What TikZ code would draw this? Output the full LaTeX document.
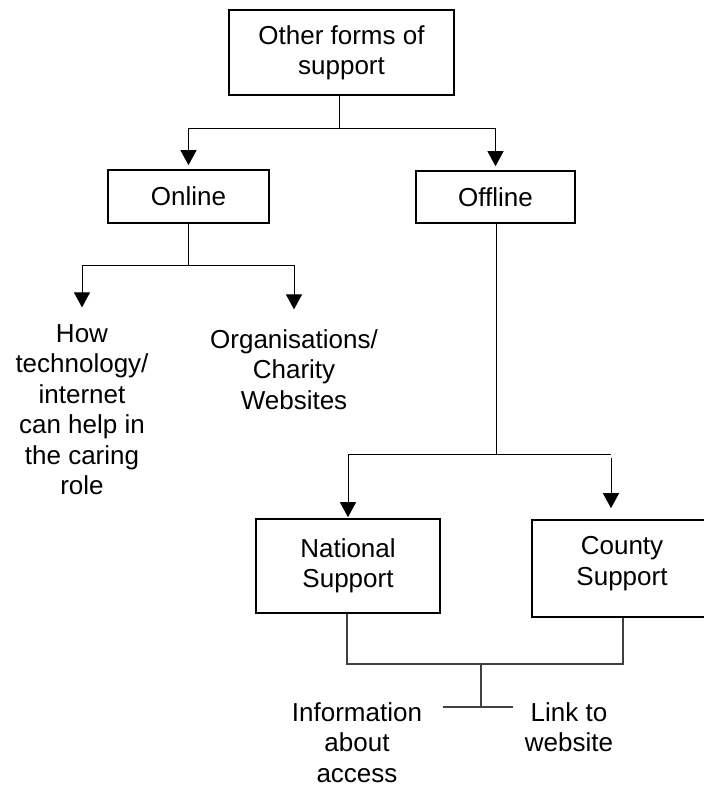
\documentclass[tikz,border=0pt]{standalone}
\usepackage{fontspec}
\setmainfont{Liberation Sans}
\usetikzlibrary{arrows.meta}
\begin{document}
\begin{tikzpicture}[x=1pt,y=-1pt,
  box/.style={draw,line width=1.6pt,align=center,inner sep=0pt,
    font=\fontsize{26}{30.4}\selectfont},
  txt/.style={align=center,inner sep=0pt,anchor=north,
    font=\fontsize{26}{30.4}\selectfont},
  link/.style={line width=1pt},
  arr/.style={link,-{Triangle[width=16pt,length=15pt]}},
  tie/.style={line width=1.3pt,draw=black!75}]
\useasboundingbox (0,0) rectangle (704,787);

% boxes
\node[box,minimum width=225,minimum height=85] (top) at (341.5,52.5) {Other forms of\\support};
\node[box,minimum width=161,minimum height=53] (online) at (188.5,196.5) {Online};
\node[box,minimum width=159,minimum height=52] (offline) at (495.5,197) {Offline};
\node[box,minimum width=184,minimum height=94] (national) at (348,566) {National\\Support};
\node[box,minimum width=180,minimum height=97] (county) at (622,568.5) {};
\node[txt,anchor=center] (countytxt) at (622,563.5) {County\\Support};

% free-standing labels
\node[txt] (how) at (82,324.4) {How\\technology/\\internet\\can help in\\the caring\\role};
\node[txt] (org) at (294,329.4) {Organisations/\\Charity\\Websites};
\node[txt] (info) at (357,702.4) {Information\\about\\access};
\node[txt] (web) at (569,702.4) {Link to\\website};

% junction points
\coordinate (j1) at (339,128);
\coordinate (j2) at (496,454);
\coordinate (j3) at (611,454);
\coordinate (j3b) at (611,458);
\coordinate (j4) at (188,265);
\coordinate (j5) at (481,664);
\coordinate (j6) at (481,707);
\coordinate (j6l) at (443,707);
\coordinate (j6r) at (513,707);

% top level split
\draw[link] (top.south -| j1) -- (j1);
\draw[arr,shorten >=4pt] (j1) -| (online.north);
\draw[arr,shorten >=4pt] (j1) -| (offline.north);

% online branch
\draw[link] (online.south -| j4) -- (j4);
\draw[arr,shorten >=17pt] (j4) -| (how.north);
\draw[arr,shorten >=20pt] (j4) -| (org.north);

% offline branch
\draw[link] (offline.south -| j2) -- (j2);
\draw[arr,shorten >=1pt] (j2) -| (national.north);
\draw[link] (j2) -- (j3);
\draw[arr,shorten >=11pt] (j3b) -- (county.north -| j3b);

% bottom join
\draw[tie] (national.south -| 347,0) |- (j5) -| (county.south -| 623,0);
\draw[tie] (j5) -- (j6);
\draw[tie] (j6l) -- (j6r);
\end{tikzpicture}
\end{document}
